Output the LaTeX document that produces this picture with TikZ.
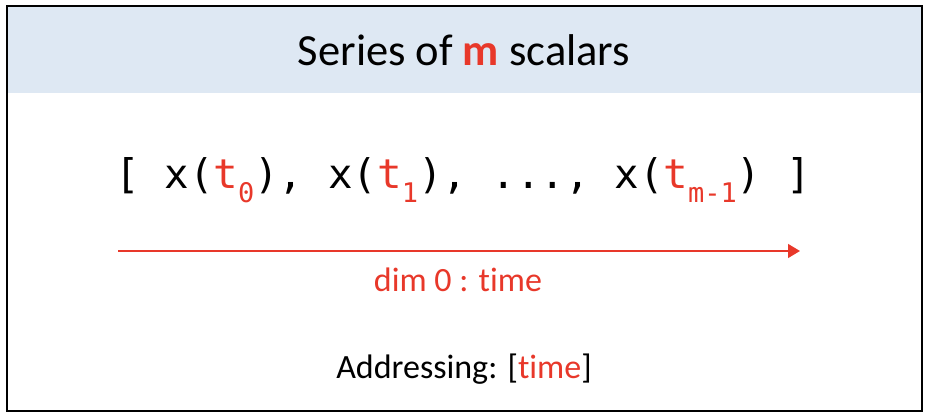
\documentclass[tikz,border=0pt]{standalone}
\usepackage{fontspec}
\setmainfont{Carlito}[Ligatures={NoCommon}]
\setmonofont{DejaVu Sans Mono}
\usetikzlibrary{arrows.meta,positioning}
\definecolor{hdrblue}{RGB}{222,232,243}
\definecolor{dimred}{RGB}{232,56,42}
\newcommand{\tred}[1]{\textcolor{dimred}{#1}}
\newcommand{\tsub}[1]{\raisebox{-0.34em}{\fontsize{27}{27}\selectfont\tred{#1}}}

\begin{document}
\begin{tikzpicture}[x=1pt,y=-1pt]
          \useasboundingbox (0,0) rectangle (930,418);
          \fill[hdrblue] (7,6) rectangle (922,93);
          \draw[line width=2pt] (7,6) rectangle (922,411);

          \node (title) at (464,50) {\fontsize{44.5}{44.5}\selectfont Series of \textbf{\tred{m}} scalars};
          \node (series) at (463,180) {\fontsize{40.8}{40.8}\selectfont\ttfamily [ x(\tred{t}\tsub{0}), x(\tred{t}\tsub{1}), ..., x(\tred{t}\tsub{m-1}) ]};

          \coordinate (tstart) at (118,251);
          \coordinate (tend) at (800,251);
          \draw[dimred, line width=1.4pt, -{Triangle[length=12pt,width=14pt]}] (tstart) -- (tend);

          \node (dim) at (458,280) {\fontsize{34}{34}\selectfont\tred{dim 0 : time}};
          \node (addr) at (464,369) {\fontsize{34}{34}\selectfont Addressing: [\tred{time}]};
        \end{tikzpicture}
\end{document}
